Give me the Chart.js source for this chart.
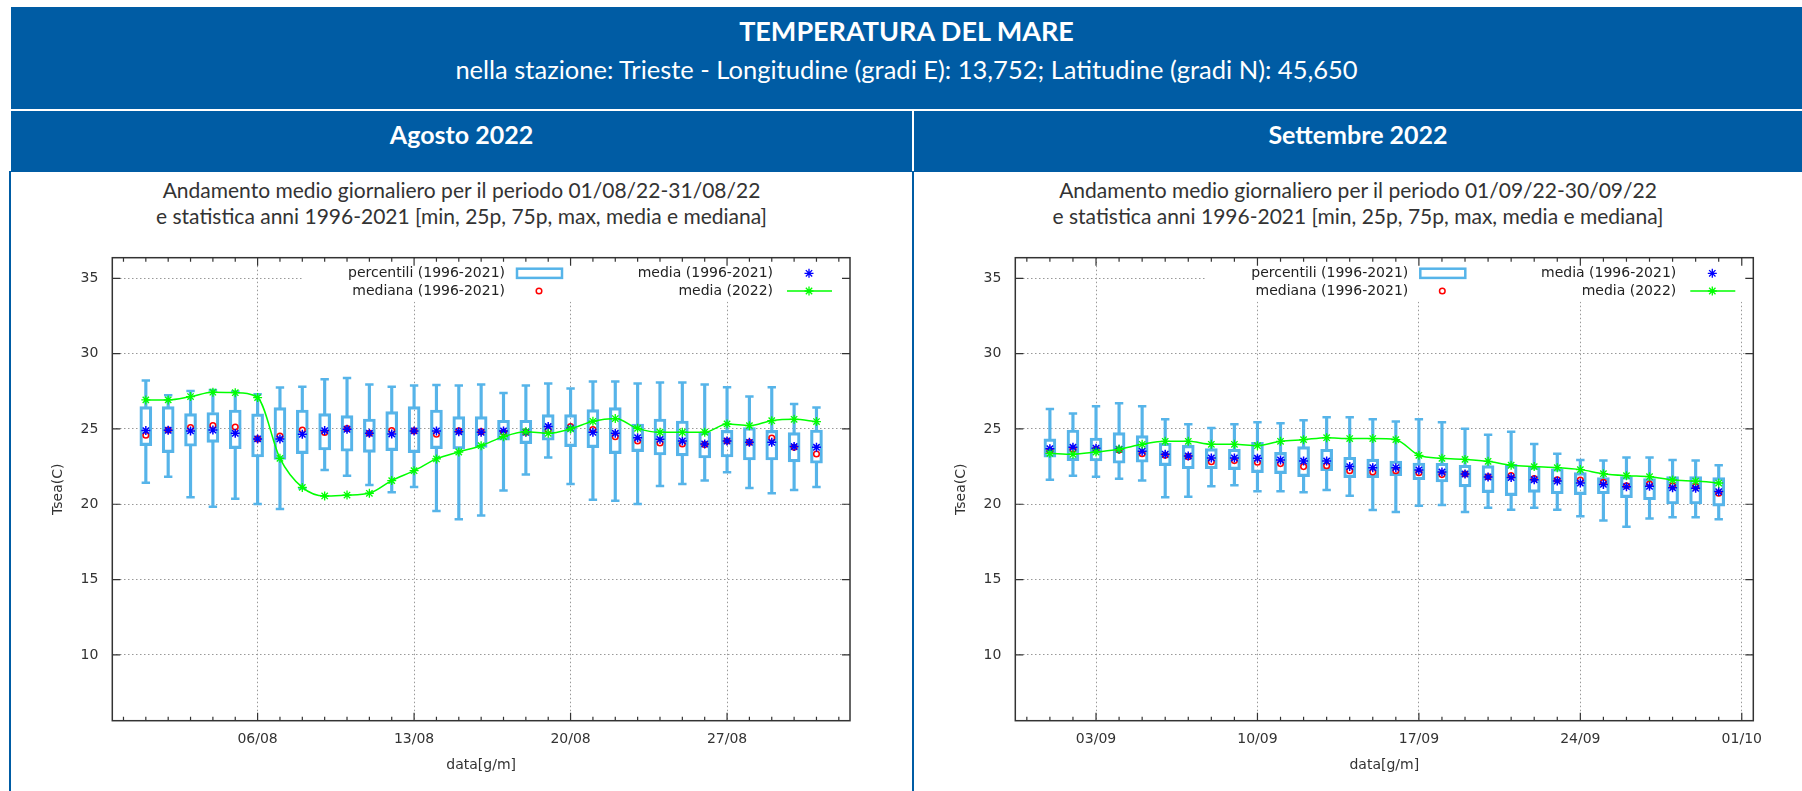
<!DOCTYPE html>
<html lang="it">
<head>
<meta charset="UTF-8">
<title>Temperatura del mare - Trieste</title>
<style>
    body {
        margin: 0;
        width: 1802px;
        height: 791px;
        overflow: hidden;
        position: relative;
        background: #ffffff;
        font-family: 'Lato', sans-serif;
    }

    .band {
        position: absolute;
        background: #005ca4;
        color: #ffffff;
        text-align: center;
    }

    .line {
        position: absolute;
        left: 0;
        right: 0;
        white-space: nowrap;
    }

    .rule {
        position: absolute;
        background: #005ca4;
        width: 2px;
    }

    .sub {
        position: absolute;
        text-align: center;
        color: #333;
        font-size: 21px;
        white-space: nowrap;
    }

    canvas {
        position: absolute;
        top: 230px;
    }
</style>
</head>
<body>

<!-- intestazione -->
<div class="band" style="left:11px; top:7px; width:1791px; height:102px;">
    <div class="line" style="top:8px; font-size:27px; font-weight:700; line-height:32px;">TEMPERATURA DEL MARE</div>
    <div class="line" style="top:47px; font-size:25.5px; line-height:30px;">nella stazione: Trieste - Longitudine (gradi E): 13,752; Latitudine (gradi N): 45,650</div>
</div>

<div class="band" style="left:11px; top:111px; width:901px; height:61px; font-size:25px; font-weight:700; line-height:47px;">Agosto 2022</div>
<div class="band" style="left:914px; top:111px; width:888px; height:61px; font-size:25px; font-weight:700; line-height:47px;">Settembre 2022</div>

<div class="rule" style="left:9px; top:171px; height:620px;"></div>
<div class="rule" style="left:912px; top:171px; height:620px;"></div>

<div class="sub" style="left:11px; width:901px; top:177px; line-height:26px;">
    Andamento medio giornaliero per il periodo 01/08/22-31/08/22<br>
    e statistica anni 1996-2021 [min, 25p, 75p, max, media e mediana]
</div>
<div class="sub" style="left:914px; width:888px; top:177px; line-height:26px;">
    Andamento medio giornaliero per il periodo 01/09/22-30/09/22<br>
    e statistica anni 1996-2021 [min, 25p, 75p, max, media e mediana]
</div>

<canvas id="chartAgo" width="901" height="561" style="left:11px;"></canvas>
<canvas id="chartSet" width="888" height="561" style="left:914px;"></canvas>

<script src="https://cdn.jsdelivr.net/npm/chart.js"></script>

<script>
    // --- Agosto 2022 ---
    const agoDays = [1, 2, 3, 4, 5, 6, 7, 8, 9, 10, 11, 12, 13, 14, 15, 16, 17, 18, 19, 20, 21, 22, 23, 24, 25, 26, 27, 28, 29, 30, 31];
    const agoMin = [21.43, 21.83, 20.46, 19.84, 20.37, 20.02, 19.68, 21.06, 22.28, 21.90, 21.28, 20.79, 21.15, 19.55, 19.00, 19.26, 20.92, 21.97, 23.10, 21.35, 20.30, 20.24, 20.02, 21.21, 21.35, 21.57, 22.12, 21.08, 20.73, 20.95, 21.15];
    const agoP25 = [23.89, 23.43, 23.85, 24.11, 23.69, 23.14, 22.98, 23.36, 23.60, 23.52, 23.45, 23.56, 23.43, 23.69, 23.67, 23.78, 24.25, 24.03, 24.25, 23.83, 23.76, 23.36, 23.49, 23.27, 23.21, 23.07, 23.14, 22.94, 22.94, 22.81, 22.72];
    const agoP75 = [26.48, 26.48, 26.02, 26.09, 26.26, 26.00, 26.42, 26.26, 26.02, 25.89, 25.66, 26.15, 26.48, 26.26, 25.82, 25.82, 25.58, 25.58, 25.95, 25.95, 26.28, 26.42, 25.33, 25.66, 25.53, 24.78, 24.91, 25.09, 24.91, 24.76, 24.93];
    const agoMax = [28.21, 27.24, 27.52, 27.59, 27.48, 27.30, 27.75, 27.81, 28.30, 28.39, 27.95, 27.81, 27.88, 27.92, 27.88, 27.95, 27.39, 27.88, 28.01, 27.68, 28.15, 28.15, 28.01, 28.08, 28.08, 27.95, 27.77, 27.15, 27.77, 26.66, 26.42];
    const agoMedia = [24.89, 24.91, 24.87, 24.93, 24.71, 24.34, 24.34, 24.65, 24.89, 24.98, 24.71, 24.67, 24.87, 24.87, 24.82, 24.78, 24.87, 24.78, 25.16, 25.04, 24.78, 24.71, 24.42, 24.31, 24.20, 24.00, 24.20, 24.11, 24.11, 23.83, 23.78];
    const agoMediana = [24.58, 24.93, 25.09, 25.22, 25.13, 24.34, 24.53, 24.93, 24.76, 25.02, 24.71, 24.89, 24.87, 24.65, 24.87, 24.82, 24.78, 24.78, 24.93, 25.16, 24.96, 24.49, 24.20, 24.07, 24.00, 23.96, 24.20, 24.11, 24.40, 23.78, 23.34];
    const ago2022 = [26.93, 26.93, 27.15, 27.44, 27.41, 27.08, 23.05, 21.12, 20.55, 20.61, 20.73, 21.57, 22.23, 23.01, 23.47, 23.89, 24.49, 24.82, 24.71, 25.00, 25.51, 25.69, 25.04, 24.78, 24.78, 24.78, 25.33, 25.22, 25.55, 25.64, 25.49];
    const agoTickDays = [6, 13, 20, 27];
    const agoTickLabels = ['06/08', '13/08', '20/08', '27/08'];

    // --- Settembre 2022 ---
    const setDays = [1, 2, 3, 4, 5, 6, 7, 8, 9, 10, 11, 12, 13, 14, 15, 16, 17, 18, 19, 20, 21, 22, 23, 24, 25, 26, 27, 28, 29, 30];
    const setMin = [21.63, 21.90, 21.83, 21.70, 21.57, 20.46, 20.50, 21.19, 21.26, 20.86, 20.86, 20.79, 20.95, 20.57, 19.62, 19.49, 19.90, 19.95, 19.49, 19.77, 19.64, 19.77, 19.64, 19.20, 18.93, 18.51, 19.06, 19.13, 19.13, 19.00];
    const setP25 = [23.12, 22.90, 22.87, 22.72, 22.79, 22.56, 22.36, 22.36, 22.30, 22.10, 22.03, 21.83, 22.23, 21.77, 21.77, 21.90, 21.63, 21.48, 21.15, 20.77, 20.57, 20.79, 20.70, 20.64, 20.70, 20.44, 20.30, 20.02, 20.02, 19.88];
    const setP75 = [24.34, 24.93, 24.40, 24.76, 24.56, 24.05, 23.91, 23.69, 23.65, 24.11, 23.45, 23.83, 23.65, 23.12, 23.00, 22.87, 22.74, 22.72, 22.59, 22.56, 22.65, 22.50, 22.36, 22.10, 21.77, 21.83, 21.70, 21.83, 21.83, 21.77];
    const setMax = [26.33, 26.02, 26.51, 26.71, 26.51, 25.64, 25.31, 25.07, 25.31, 25.44, 25.38, 25.58, 25.78, 25.78, 25.64, 25.49, 25.64, 25.44, 25.02, 24.62, 24.82, 24.00, 23.36, 22.94, 22.90, 23.10, 23.10, 22.94, 22.90, 22.59];
    const setMedia = [23.69, 23.78, 23.72, 23.65, 23.52, 23.32, 23.21, 23.07, 23.07, 23.05, 22.94, 22.87, 22.87, 22.50, 22.43, 22.43, 22.28, 22.14, 22.01, 21.81, 21.77, 21.63, 21.54, 21.41, 21.32, 21.17, 21.19, 21.10, 21.06, 20.84];
    const setMediana = [23.56, 23.65, 23.65, 23.60, 23.36, 23.25, 23.16, 22.83, 22.90, 22.79, 22.70, 22.50, 22.56, 22.23, 22.14, 22.23, 22.10, 21.97, 22.01, 21.83, 21.90, 21.70, 21.63, 21.61, 21.46, 21.23, 21.35, 21.23, 21.17, 20.73];
    const set2022 = [23.38, 23.32, 23.47, 23.65, 23.98, 24.18, 24.18, 23.98, 23.98, 23.89, 24.18, 24.29, 24.42, 24.36, 24.36, 24.29, 23.25, 23.05, 22.98, 22.85, 22.59, 22.50, 22.43, 22.30, 22.03, 21.90, 21.83, 21.61, 21.54, 21.41];
    const setTickDays = [3, 10, 17, 24, 31];
    const setTickLabels = ['03/09', '10/09', '17/09', '24/09', '01/10'];

    // --- asse y e legenda (comuni) ---
    const yTicks = [10, 15, 20, 25, 30, 35];
    const legendLabels = ['percentili (1996-2021)', 'mediana (1996-2021)', 'media (1996-2021)', 'media (2022)'];

    const BOX_COLOR = '#56b4e9';
    const FONT = "'DejaVu Sans', sans-serif";

    // stella tipo gnuplot (+ e x sovrapposti)
    function drawStar(ctx, x, y, r, color) {
        const d = r * 0.7071;
        ctx.save();
        ctx.strokeStyle = color;
        ctx.lineWidth = 1.3;
        ctx.beginPath();
        ctx.moveTo(x - r, y); ctx.lineTo(x + r, y);
        ctx.moveTo(x, y - r); ctx.lineTo(x, y + r);
        ctx.moveTo(x - d, y - d); ctx.lineTo(x + d, y + d);
        ctx.moveTo(x - d, y + d); ctx.lineTo(x + d, y - d);
        ctx.stroke();
        ctx.restore();
    }

    // cornice, tacche interne e legenda in stile gnuplot
    const gnuplotFrame = {
        id: 'gnuplotFrame',
        beforeDatasetsDraw(chart) {
            const a = chart.chartArea;
            const ctx = chart.ctx;
            ctx.save();
            ctx.fillStyle = '#ffffff';
            ctx.fillRect(a.left + 190, a.top + 1, a.right - a.left - 191, 43);
            ctx.restore();
        },
        afterDraw(chart) {
            const a = chart.chartArea;
            const ctx = chart.ctx;
            const xs = chart.scales.x;
            const ys = chart.scales.y;

            ctx.save();
            ctx.strokeStyle = '#333';
            ctx.lineWidth = 1.5;
            ctx.strokeRect(a.left, a.top, a.right - a.left, a.bottom - a.top);

            ctx.lineWidth = 1.2;
            ctx.beginPath();
            ys.ticks.forEach(t => {
                const py = ys.getPixelForValue(t.value);
                ctx.moveTo(a.left, py); ctx.lineTo(a.left + 8, py);
                ctx.moveTo(a.right, py); ctx.lineTo(a.right - 8, py);
            });
            const major = xs.ticks.map(t => t.value);
            for (let d = Math.ceil(xs.min); d <= Math.floor(xs.max); d++) {
                const px = xs.getPixelForValue(d);
                const len = major.includes(d) ? 8 : 4;
                ctx.moveTo(px, a.bottom); ctx.lineTo(px, a.bottom - len);
                ctx.moveTo(px, a.top); ctx.lineTo(px, a.top + len);
            }
            ctx.stroke();

            // legenda
            const R = a.right;
            const row1 = a.top + 15.6;
            const row2 = a.top + 33.3;
            ctx.font = '14px ' + FONT;
            ctx.fillStyle = '#222';
            ctx.textAlign = 'right';
            ctx.textBaseline = 'middle';
            ctx.fillText(legendLabels[0], R - 345, row1);
            ctx.fillText(legendLabels[1], R - 345, row2);
            ctx.fillText(legendLabels[2], R - 77, row1);
            ctx.fillText(legendLabels[3], R - 77, row2);

            ctx.strokeStyle = BOX_COLOR;
            ctx.lineWidth = 2.5;
            ctx.strokeRect(R - 333, row1 - 4.6, 45, 9.2);

            ctx.strokeStyle = '#ff0000';
            ctx.lineWidth = 1.5;
            ctx.beginPath();
            ctx.arc(R - 311, row2, 2.8, 0, Math.PI * 2);
            ctx.stroke();

            drawStar(ctx, R - 41, row1, 4.5, '#0000ff');

            ctx.strokeStyle = '#00ff00';
            ctx.lineWidth = 1.5;
            ctx.beginPath();
            ctx.moveTo(R - 63, row2); ctx.lineTo(R - 18, row2);
            ctx.stroke();
            drawStar(ctx, R - 41, row2, 4.5, '#00ff00');
            ctx.restore();
        }
    };

    function pts(days, values) {
        return days.map((d, i) => ({ x: d, y: values[i] }));
    }

    function ranges(days, lo, hi) {
        return days.map((d, i) => ({ x: d, y: [lo[i], hi[i]] }));
    }

    function makeChart(id, days, mn, p25, p75, mx, media, mediana, y2022, tickDays, tickLabels, rightPad) {
        const ctx = document.getElementById(id).getContext('2d');
        return new Chart(ctx, {
            type: 'bar',
            data: {
                datasets: [
                    {
                        type: 'line',
                        data: pts(days, y2022),
                        borderColor: '#00ff00',
                        borderWidth: 1.5,
                        cubicInterpolationMode: 'monotone',
                        pointStyle: 'star',
                        pointRadius: 4.5,
                        pointBorderColor: '#00ff00',
                        pointBorderWidth: 1.3,
                        order: 0
                    },
                    {
                        type: 'line',
                        data: pts(days, media),
                        showLine: false,
                        pointStyle: 'star',
                        pointRadius: 4.5,
                        pointBorderColor: '#0000ff',
                        pointBorderWidth: 1.5,
                        order: 1
                    },
                    {
                        type: 'line',
                        data: pts(days, mediana),
                        showLine: false,
                        pointStyle: 'circle',
                        pointRadius: 2.8,
                        pointBackgroundColor: 'rgba(0,0,0,0)',
                        pointBorderColor: '#ff0000',
                        pointBorderWidth: 1.5,
                        order: 2
                    },
                    {
                        type: 'line',
                        data: pts(days, mn).concat(pts(days, mx)),
                        showLine: false,
                        pointStyle: 'line',
                        pointRadius: 4.2,
                        pointBorderColor: BOX_COLOR,
                        pointBorderWidth: 2.5,
                        order: 3
                    },
                    {
                        data: ranges(days, p25, p75),
                        backgroundColor: 'rgba(0,0,0,0)',
                        borderColor: BOX_COLOR,
                        borderWidth: 2.5,
                        borderSkipped: false,
                        barThickness: 12,
                        grouped: false,
                        order: 4
                    },
                    {
                        data: ranges(days, mn, p25),
                        backgroundColor: BOX_COLOR,
                        borderWidth: 0,
                        barThickness: 2.5,
                        grouped: false,
                        order: 5
                    },
                    {
                        data: ranges(days, p75, mx),
                        backgroundColor: BOX_COLOR,
                        borderWidth: 0,
                        barThickness: 2.5,
                        grouped: false,
                        order: 5
                    }
                ]
            },
            options: {
                responsive: false,
                animation: false,
                events: [],
                layout: { padding: { top: 27.7, right: rightPad, left: 0, bottom: 0 } },
                plugins: { legend: { display: false }, tooltip: { enabled: false } },
                scales: {
                    x: {
                        type: 'linear',
                        min: -0.5,
                        max: days.length + 1.5,
                        offset: false,
                        afterBuildTicks: (scale) => { scale.ticks = tickDays.map(v => ({ value: v })); },
                        afterFit: (scale) => { scale.height = 70.3; },
                        ticks: {
                            autoSkip: false,
                            maxRotation: 0,
                            padding: 10,
                            color: '#333',
                            font: { family: FONT, size: 14 },
                            callback: (v) => tickLabels[tickDays.indexOf(v)]
                        },
                        grid: {
                            offset: false,
                            drawTicks: false,
                            color: '#999999',
                            lineWidth: 1
                        },
                        border: { display: false, dash: [1.5, 2.5] },
                        title: {
                            display: true,
                            text: 'data[g/m]',
                            color: '#333',
                            font: { family: FONT, size: 14 },
                            padding: { top: 0, bottom: 17.6 }
                        }
                    },
                    y: {
                        min: 5.63,
                        max: 36.37,
                        afterBuildTicks: (scale) => { scale.ticks = yTicks.map(v => ({ value: v })); },
                        afterFit: (scale) => { scale.width = 101.3; },
                        ticks: {
                            padding: 14,
                            color: '#333',
                            font: { family: FONT, size: 14 }
                        },
                        grid: {
                            drawTicks: false,
                            color: '#999999',
                            lineWidth: 1
                        },
                        border: { display: false, dash: [1.5, 2.5] },
                        title: {
                            display: true,
                            text: 'Tsea(C)',
                            color: '#333',
                            font: { family: FONT, size: 14 },
                            padding: { top: 38.6, bottom: 0 }
                        }
                    }
                }
            },
            plugins: [gnuplotFrame]
        });
    }

    makeChart('chartAgo', agoDays, agoMin, agoP25, agoP75, agoMax, agoMedia, agoMediana, ago2022, agoTickDays, agoTickLabels, 62);
    makeChart('chartSet', setDays, setMin, setP25, setP75, setMax, setMedia, setMediana, set2022, setTickDays, setTickLabels, 48.7);
</script>

</body>
</html>
